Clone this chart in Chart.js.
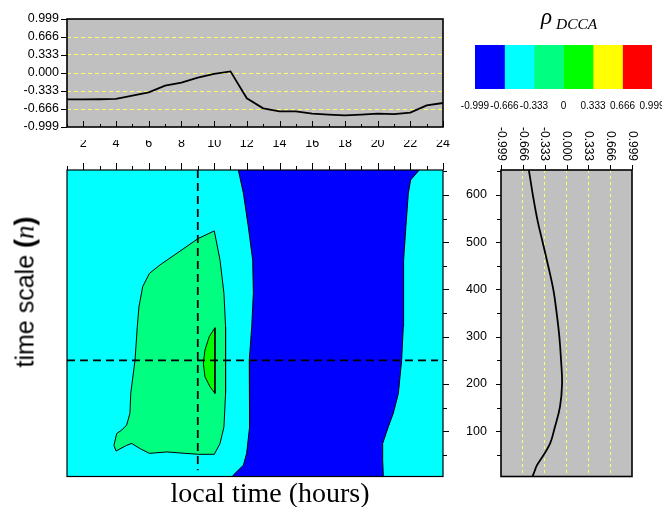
<!DOCTYPE html>
<html>
<head>
<meta charset="utf-8">
<script src="https://cdn.jsdelivr.net/npm/chart.js@4.4.1/dist/chart.umd.min.js"></script>
<style>
  html, body { margin: 0; padding: 0; background: #fff; }
  #wrap { position: relative; width: 662px; height: 507px; overflow: hidden; }
  #wrap canvas { position: absolute; left: 0; top: 0; }
  .t { position: absolute; white-space: nowrap; line-height: 1; color: #000; }
</style>
</head>
<body>
<div id="wrap">
  <canvas id="topChart" width="662" height="507"></canvas>
  <canvas id="mainChart" width="662" height="507"></canvas>
  <canvas id="sideChart" width="662" height="507"></canvas>
  <canvas id="barChart" width="662" height="507"></canvas>
  <div class="t" style="left:541px;top:3.6px;font:italic 23px 'Liberation Serif',serif">ρ</div>
  <div class="t" style="left:556px;top:15px;font:italic 15.5px 'Liberation Serif',serif">DCCA</div>
  <div class="t" style="left:270px;top:477px;transform:translateX(-50%);font:28px 'Liberation Serif',serif">local time (hours)</div>
  <div class="t" style="left:25px;top:292px;transform:translate(-50%,-50%) rotate(-90deg);font:25px 'Liberation Sans',Arial,sans-serif">time scale <b style="font-size:27px">(</b><i style="font:italic 27px 'Liberation Serif',serif">n</i><b style="font-size:27px">)</b></div>
</div>
<script>
// --- data -------------------------------------------------------------
const HOURS = [1,2,3,4,5,6,7,8,9,10,11,12,13,14,15,16,17,18,19,20,21,22,23,24];
// rho_DCCA along the dashed horizontal line (n = 250)
const RHO_N250 = [-0.487,-0.487,-0.486,-0.48,-0.42,-0.358,-0.234,-0.18,-0.086,-0.018,0.03,-0.468,
                  -0.653,-0.709,-0.71,-0.753,-0.77,-0.783,-0.77,-0.753,-0.76,-0.734,-0.6,-0.555];
// rho_DCCA along the dashed vertical line (9 h)
const N_SIDE   = [653,600,547,499,448,399,349,300,250,200,152,102,74,49,28,14,4];
const RHO_H9   = [-0.574,-0.513,-0.443,-0.362,-0.276,-0.2,-0.149,-0.109,-0.083,-0.068,-0.099,-0.19,-0.25,-0.352,-0.45,-0.49,-0.519];

// contour regions [hour, n]
const BLUE_REGION = [[11.45,660],[11.48,653],[11.79,604],[12.09,533],[12.36,462],[12.4,392],[12.3,321],[12.15,250],
  [12.19,180],[12.15,109],[11.99,53],[11.79,28],[11.17,7],[11.1,0],
  [20.35,0],[20.35,3],[20.31,38],[20.31,74],[20.65,109],[20.96,138],[21.27,180],[21.47,250],[21.57,321],
  [21.57,392],[21.61,462],[21.73,533],[21.88,604],[22.02,632],[22.55,653],[22.6,660],[11.45,660]];
const GREEN_REGION = [[10.01,524],[10.36,462],[10.6,392],[10.7,321],[10.7,250],[10.7,180],[10.6,109],[10.36,74],
  [10.01,51],[9.03,51],[7.1,56],[6.04,53],[5.47,63],[4.96,74],[4.65,70],[4.0,58],[3.87,70],[4.04,95],[4.34,102],
  [4.65,113],[4.85,138],[4.9,180],[5.16,250],[5.3,321],[5.4,363],[5.63,406],[6.04,434],[6.69,452],[9.03,508],[10.01,524]];
const LIME_REGION = [[10.05,319],[10.05,180],[9.75,194],[9.44,215],[9.34,244],[9.44,272],[9.7,300],[10.05,319]];

const CUT_HOUR = 9;
const CUT_N = 250;

const LEVELS = [-0.999,-0.666,-0.333,0,0.333,0.666,0.999];
const LEVEL_COLORS = ['#0000ff','#00ffff','#00ff80','#00ff00','#ffff00','#ff0000'];
const HOUR_TICKS = [2,4,6,8,10,12,14,16,18,20,22,24];
const N_TICKS = [100,200,300,400,500,600];

// --- helpers ----------------------------------------------------------
Chart.defaults.font.family = "'Liberation Sans', Arial, sans-serif";
Chart.defaults.color = '#000';
Chart.defaults.animation = false;

const GRAY = '#c0c0c0';
const GRID_YELLOW = '#ffff66';
const inner = v => Math.abs(v) < 0.99;
const fmt3 = v => v.toFixed(3);
function seq(a, b, s) { const r = []; for (let v = a; v <= b + 1e-9; v += s) r.push(+v.toFixed(3)); return r; }
function fixW(w) { return s => { s.width = w; s.paddingTop = 0; s.paddingBottom = 0; }; }
function fixH(h) { return s => { s.height = h; s.paddingLeft = 0; s.paddingRight = 0; }; }
const setTicks = vals => s => { s.ticks = vals.map(v => ({ value: v })); };

function framePlugin(cfg) {
  return {
    id: 'frame',
    beforeDraw(chart) {
      const a = chart.chartArea, c = chart.ctx;
      if (!cfg.bg) return;
      c.save(); c.fillStyle = cfg.bg; c.fillRect(a.left, a.top, a.width, a.height); c.restore();
    },
    afterDraw(chart) {
      const a = chart.chartArea, c = chart.ctx;
      c.save();
      c.strokeStyle = '#000'; c.lineWidth = 1;
      (cfg.ticks || []).forEach(t => {
        const sc = chart.scales[t.scale];
        t.values.forEach(v => {
          const p = Math.round(sc.getPixelForValue(v)) + 0.5;
          c.beginPath();
          if (t.edge === 'top') { c.moveTo(p, a.top); c.lineTo(p, a.top - t.len); }
          else if (t.edge === 'bottom') { c.moveTo(p, a.bottom); c.lineTo(p, a.bottom + t.len); }
          else if (t.edge === 'left') { c.moveTo(a.left, p); c.lineTo(a.left - t.len, p); }
          else { c.moveTo(a.right, p); c.lineTo(a.right + t.len, p); }
          c.stroke();
        });
      });
      if (cfg.rot) {
        const sc = chart.scales[cfg.rot.scale];
        c.font = "12px 'Liberation Sans', Arial, sans-serif";
        c.fillStyle = '#000';
        c.textAlign = 'right'; c.textBaseline = 'middle';
        cfg.rot.values.forEach(v => {
          c.save();
          c.translate(sc.getPixelForValue(v), a.top - cfg.rot.gap);
          c.rotate(Math.PI / 2);
          c.fillText(fmt3(v), 0, 0);
          c.restore();
        });
      }
      if (cfg.border) {
        c.lineWidth = cfg.border;
        c.strokeRect(a.left, a.top, a.width, a.height);
      }
      c.restore();
    }
  };
}

const even = HOURS.filter(h => h % 2 === 0), odd = HOURS.filter(h => h % 2 === 1);
const noPlugins = { legend: { display: false }, tooltip: { enabled: false } };

// --- top profile ------------------------------------------------------
new Chart(document.getElementById('topChart'), {
  type: 'scatter',
  data: { datasets: [{
    data: HOURS.map((h, i) => ({ x: h, y: RHO_N250[i] })),
    showLine: true, borderColor: '#000', borderWidth: 1.8, pointRadius: 0, tension: 0
  }]},
  options: {
    responsive: false, devicePixelRatio: 1,
    layout: { padding: { left: 0, top: 19, right: 219, bottom: 380 } },
    plugins: noPlugins,
    scales: {
      x: { type: 'linear', min: 1, max: 24, display: false },
      y: { type: 'linear', min: -0.999, max: 0.999, afterBuildTicks: setTicks(LEVELS), afterFit: fixW(67),
           ticks: { font: { size: 12.5 }, padding: 8, callback: v => fmt3(v) },
           grid: { drawTicks: false, color: c => inner(c.tick.value) ? GRID_YELLOW : 'rgba(0,0,0,0)' },
           border: { display: false, dash: [4, 3] } }
    }
  },
  plugins: [framePlugin({ bg: GRAY, border: 1.6, ticks: [
    { scale: 'y', edge: 'left', len: 6, values: LEVELS },
    { scale: 'x', edge: 'bottom', len: -6, values: even },
    { scale: 'x', edge: 'bottom', len: -3, values: odd }
  ]})]
});

// --- main contour map -------------------------------------------------
const poly = (pts, color) => ({
  data: pts.map(([x, y]) => ({ x, y })), showLine: true, fill: 'shape',
  backgroundColor: color, borderColor: '#000', borderWidth: 1, pointRadius: 0, tension: 0
});
const dashed = pts => ({
  data: pts, showLine: true, fill: false, borderColor: '#000', borderWidth: 1.8,
  borderDash: [8, 5], pointRadius: 0
});

new Chart(document.getElementById('mainChart'), {
  type: 'scatter',
  data: { datasets: [
    dashed([{ x: 1, y: CUT_N }, { x: 23.7, y: CUT_N }]),
    dashed([{ x: CUT_HOUR, y: 653 }, { x: CUT_HOUR, y: 17 }]),
    poly(LIME_REGION, LEVEL_COLORS[3]),
    poly(GREEN_REGION, LEVEL_COLORS[2]),
    poly(BLUE_REGION, LEVEL_COLORS[0])
  ]},
  options: {
    responsive: false, devicePixelRatio: 1,
    layout: { padding: { left: 67, top: 140, right: 0, bottom: 30.5 } },
    plugins: noPlugins,
    scales: {
      x: { type: 'linear', position: 'top', min: 1, max: 24, afterBuildTicks: setTicks(HOUR_TICKS), afterFit: fixH(30),
           ticks: { font: { size: 12.5 }, padding: 11 }, grid: { display: false }, border: { display: false } },
      y: { type: 'linear', position: 'right', min: 4, max: 653, afterBuildTicks: setTicks(N_TICKS), afterFit: fixW(219),
           ticks: { font: { size: 12.5 }, padding: 15 }, grid: { display: false }, border: { display: false } }
    }
  },
  plugins: [framePlugin({ bg: LEVEL_COLORS[1], border: 1.2, ticks: [
    { scale: 'x', edge: 'top', len: 7, values: even },
    { scale: 'x', edge: 'top', len: 4, values: odd },
    { scale: 'y', edge: 'right', len: 6, values: N_TICKS },
    { scale: 'y', edge: 'right', len: 4, values: seq(50, 650, 100) }
  ]})]
});

// --- side profile -----------------------------------------------------
new Chart(document.getElementById('sideChart'), {
  type: 'scatter',
  data: { datasets: [{
    data: N_SIDE.map((n, i) => ({ x: RHO_H9[i], y: n })),
    showLine: true, borderColor: '#000', borderWidth: 1.8, pointRadius: 0, tension: 0.4
  }]},
  options: {
    responsive: false, devicePixelRatio: 1,
    layout: { padding: { left: 501, top: 0, right: 30, bottom: 30.5 } },
    plugins: noPlugins,
    scales: {
      x: { type: 'linear', position: 'top', min: -0.999, max: 0.999, afterBuildTicks: setTicks(LEVELS), afterFit: fixH(170),
           ticks: { display: false },
           grid: { drawTicks: false, color: c => inner(c.tick.value) ? GRID_YELLOW : 'rgba(0,0,0,0)' },
           border: { display: false, dash: [3, 3] } },
      y: { type: 'linear', min: 4, max: 653, display: false }
    }
  },
  plugins: [framePlugin({ bg: GRAY, border: 1.6, rot: { scale: 'x', values: LEVELS, gap: 9 }, ticks: [
    { scale: 'x', edge: 'top', len: 5, values: LEVELS },
    { scale: 'y', edge: 'left', len: 5, values: N_TICKS },
    { scale: 'y', edge: 'left', len: 4, values: seq(50, 650, 100) }
  ]})]
});

// --- colour scale -----------------------------------------------------
new Chart(document.getElementById('barChart'), {
  type: 'bar',
  data: {
    labels: ['rho'],
    datasets: LEVEL_COLORS.map((col, i) => ({
      data: [[LEVELS[i], LEVELS[i + 1]]], backgroundColor: col, borderWidth: 0,
      barPercentage: 1, categoryPercentage: 1, grouped: false
    }))
  },
  options: {
    responsive: false, devicePixelRatio: 1, indexAxis: 'y',
    layout: { padding: { left: 475, top: 45, right: 10, bottom: 398 } },
    plugins: noPlugins,
    scales: {
      x: { type: 'linear', min: -0.999, max: 0.999, afterBuildTicks: setTicks(LEVELS), afterFit: fixH(20),
           ticks: { font: { size: 10 }, padding: 3, autoSkip: false, maxRotation: 0, minRotation: 0,
                    callback: v => v === 0 ? '0' : fmt3(v) },
           grid: { display: false }, border: { display: false } },
      y: { type: 'category', display: false }
    }
  }
});
</script>
</body>
</html>
